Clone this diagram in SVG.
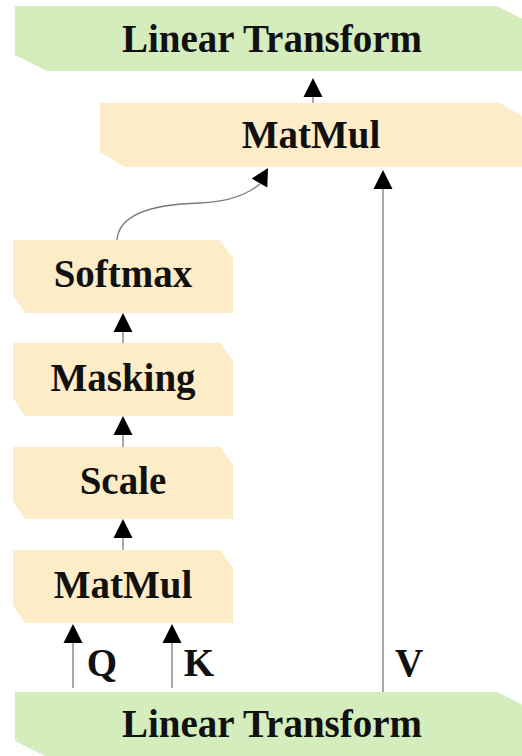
<svg xmlns="http://www.w3.org/2000/svg" width="522" height="756" viewBox="0 0 522 756">
  <style>
    .lin { fill: #d5edbd; }
    .op { fill: #fdecc8; }
    .lbl { font-family: "Liberation Serif", "Times New Roman", serif; font-weight: bold; font-size: 39px; fill: #111; text-anchor: middle; }
    .edge { stroke: #7a7a7a; stroke-width: 1.3; fill: none; }
    .head { fill: #000; }
  </style>
  <defs>
    <!-- upward arrowhead, tip at origin -->
    <polygon id="up" class="head" points="0,0 -9.5,19 9.5,19"/>
  </defs>

  <g id="linear-out">
    <polygon class="lin" points="15,6 497,6 529,22 529,71 47,71 15,55"/>
    <text class="lbl" x="272" y="52">Linear Transform</text>
  </g>

  <g id="matmul-out">
    <polygon class="op" points="100,103 500,103 525,118 525,167 125,167 100,152"/>
    <text class="lbl" x="311" y="148">MatMul</text>
  </g>

  <g id="softmax">
    <polygon class="op" points="13,240 220,240 233,258 233,313 25,313 13,295"/>
    <text class="lbl" x="123" y="287">Softmax</text>
  </g>

  <g id="masking">
    <polygon class="op" points="13,343 220,343 233,361 233,416 25,416 13,398"/>
    <text class="lbl" x="123" y="391">Masking</text>
  </g>

  <g id="scale">
    <polygon class="op" points="13,447 220,447 233,465 233,519 25,519 13,501"/>
    <text class="lbl" x="123" y="494">Scale</text>
  </g>

  <g id="matmul-qk">
    <polygon class="op" points="13,550 220,550 233,568 233,623 25,623 13,605"/>
    <text class="lbl" x="123" y="598">MatMul</text>
  </g>

  <g id="linear-in">
    <polygon class="lin" points="15,692 497,692 529,708 529,757 47,757 15,741"/>
    <text class="lbl" x="272" y="737">Linear Transform</text>
  </g>

  <g id="connectors">
    <!-- MatMul to output Linear Transform -->
    <line class="edge" x1="313" y1="103" x2="313" y2="95"/>
    <use href="#up" x="313" y="78"/>

    <!-- V path -->
    <line class="edge" x1="383" y1="692" x2="383" y2="187"/>
    <use href="#up" x="383" y="170"/>

    <!-- Softmax to MatMul -->
    <path class="edge" d="M117,240 C119,212 160,204 200,203 C228,202 248,194 260,184"/>
    <polygon class="head" points="268,168 251.7,178.6 267.3,187.4"/>

    <!-- stack of operations -->
    <line class="edge" x1="123" y1="343" x2="123" y2="330"/>
    <use href="#up" x="123" y="313"/>
    <line class="edge" x1="123" y1="447" x2="123" y2="433"/>
    <use href="#up" x="123" y="416"/>
    <line class="edge" x1="123" y1="550" x2="123" y2="536"/>
    <use href="#up" x="123" y="519"/>

    <!-- Q and K paths -->
    <line class="edge" x1="73" y1="688" x2="73" y2="640"/>
    <use href="#up" x="73" y="624"/>
    <line class="edge" x1="172" y1="688" x2="172" y2="640"/>
    <use href="#up" x="172" y="624"/>

    <text class="lbl" x="102" y="676">Q</text>
    <text class="lbl" x="199" y="676">K</text>
    <text class="lbl" x="409" y="676">V</text>
  </g>
</svg>
